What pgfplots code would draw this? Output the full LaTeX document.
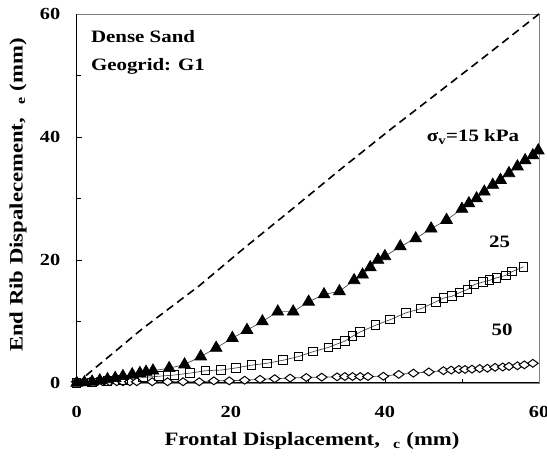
\documentclass[border=0pt]{standalone}
\usepackage{fontspec}
\setmainfont{Liberation Serif}[FakeStretch=1.2]
\usepackage{pgfplots}
\pgfplotsset{compat=1.18}
\pgfdeclareplotmark{wdiamond}{%
  \pgfpathmoveto{\pgfqpoint{0pt}{0.85\pgfplotmarksize}}%
  \pgfpathlineto{\pgfqpoint{1.15\pgfplotmarksize}{0pt}}%
  \pgfpathlineto{\pgfqpoint{0pt}{-0.85\pgfplotmarksize}}%
  \pgfpathlineto{\pgfqpoint{-1.15\pgfplotmarksize}{0pt}}%
  \pgfpathclose
  \pgfusepathqfillstroke}
\begin{document}
\begin{tikzpicture}
\begin{axis}[
  scale only axis, width=462.3bp, height=369bp,
  xmin=0, xmax=60, ymin=0, ymax=60,
  xtick={0,20,40,60}, ytick={0,20,40,60},
  minor xtick={10,30,50}, minor ytick={10,30,50},
  tick pos=left, tick align=inside,
  major tick length=5bp, minor tick length=4bp,
  tick style={black, line width=0.7bp},
  axis line style={draw=gray, line width=0.9bp},
  ticklabel style={font=\fontsize{17}{17}\selectfont\bfseries},
  /pgf/number format/assume math mode=true,
  xticklabel style={yshift=-20bp},
  yticklabel style={xshift=-13bp},
  xlabel={Frontal Displacement,\hspace{0.7em}\textsubscript{c} (mm)},
  ylabel={End Rib Dispalecement,\hspace{0.7em}\textsubscript{e} (mm)},
  label style={font=\fontsize{19}{19}\selectfont\bfseries},
  xlabel style={at={(axis description cs:0.509,-0.158)}, anchor=center},
  ylabel style={at={(axis description cs:-0.127,0.509)}, anchor=center},
  clip=false,
]
\draw[black, line width=1bp] (rel axis cs:0,1) -- (rel axis cs:0,0) -- (rel axis cs:1,0);
% dashed line
\addplot[black, line width=1.6bp, dash pattern=on 8bp off 5bp] coordinates {
(1.2,1.2)(8.6,8.9)(15.9,15.8)(21.8,22.0)(27.7,28.0)(34.2,34.7)(40.9,41.4)(47,47.3)(53.5,53.6)(60,60)};
% 50 kPa diamonds
\addplot[gray!60!black, line width=0.7bp, mark=wdiamond, mark size=4.6bp,
  mark options={solid, fill=white, draw=black, line width=1bp}] coordinates {
(0,0.2)(0.9,0.2)(1.7,0.2)(2.6,0.2)(3.4,0.2)(4.3,0.2)(5.2,0.2)(6.0,0.2)(6.9,0.2)(7.8,0.2)
(9.8,0.2)(11.8,0.2)(13.8,0.2)(15.9,0.2)(17.8,0.35)(19.8,0.35)(21.8,0.45)(23.8,0.6)(25.7,0.7)
(27.7,0.8)(29.8,0.9)(31.8,0.95)(33.8,1.0)(34.8,1.05)(35.8,1.05)(36.8,1.05)(37.8,1.05)
(39.8,1.1)(41.8,1.4)(43.7,1.6)(45.7,1.8)(47.6,2.0)(48.6,2.1)(49.6,2.2)(50.4,2.2)(51.3,2.25)
(52.3,2.35)(53.3,2.4)(54.3,2.55)(55.3,2.6)(56.1,2.7)(57.2,2.8)(58.1,2.95)(59.2,3.2)};
% 25 kPa squares
\addplot[gray!60!black, line width=0.7bp, mark=square, mark size=4.3bp,
  mark options={solid, fill=white, draw=black, line width=1bp}] coordinates {
(0,0)(2,0.1)(4,0.3)(6,0.5)(8.6,0.9)(10.7,1.1)(12.7,1.3)(14.7,1.6)(16.7,2.0)(18.7,2.1)
(20.7,2.45)(22.7,2.9)(24.7,3.2)(26.8,3.7)(28.8,4.3)(30.7,5.1)(32.7,5.8)(33.7,6.3)(34.8,6.8)
(35.8,7.6)(36.8,8.3)(38.8,9.4)(40.7,10.3)(42.7,11.4)(44.7,12.1)(46.6,13.2)(47.6,13.8)
(48.7,14.1)(49.7,14.7)(50.7,15.2)(51.6,16.0)(52.7,16.4)(53.6,16.7)(54.5,17.1)(55.7,17.5)
(56.5,18.1)(58.0,18.9)};
% 15 kPa triangles
\addplot[gray!60!black, line width=0.7bp, mark=triangle*, mark size=6.8bp,
  mark options={solid, fill=black, draw=black}] coordinates {
(0,0)(1,0.1)(2,0.2)(3,0.4)(4,0.6)(5,0.8)(6,1.1)(7.2,1.4)(8.2,1.6)(9.0,1.8)(9.9,2.0)
(12.0,2.4)(14.0,3.0)(16.1,4.3)(18.1,5.7)(20.2,7.3)(22.1,8.6)(24.1,10.0)(26.1,11.6)(28.1,11.6)
(30.1,13.2)(32.1,14.4)(34.1,14.9)(36.0,16.7)(37.1,17.6)(38.1,18.8)(39.1,20.0)(40.0,20.6)
(42.0,22.2)(44.0,23.5)(46.0,25.1)(48.0,26.5)(50.0,28.3)(50.9,29.2)(51.9,30.0)(52.9,31.1)
(54.0,32.2)(55.0,33.0)(56.1,34.1)(57.2,35.2)(58.2,36.2)(59.2,37.0)(59.9,37.8)};
% annotations
\node[anchor=west, font=\fontsize{17.5}{17.5}\selectfont\bfseries] at (axis cs:1.4,56.4) {Dense Sand};
\node[anchor=west, font=\fontsize{17.5}{17.5}\selectfont\bfseries] at (axis cs:1.4,51.5) {Geogrid: G1};
\node[anchor=west, font=\fontsize{17.5}{17.5}\selectfont\bfseries] at (axis cs:45.0,40.0) {σ\textsubscript{v}=15 kPa};
\node[font=\fontsize{17.5}{17.5}\selectfont\bfseries] at (axis cs:54.9,22.9) {25};
\node[font=\fontsize{17.5}{17.5}\selectfont\bfseries] at (axis cs:55.2,8.6) {50};
\coordinate (bbll) at (rel axis cs:-0.1659,-0.2114);
\coordinate (bbur) at (rel axis cs:1.0173,1.0379);
\end{axis}
\pgfresetboundingbox
\path (bbll) rectangle (bbur);
\end{tikzpicture}
\end{document}
